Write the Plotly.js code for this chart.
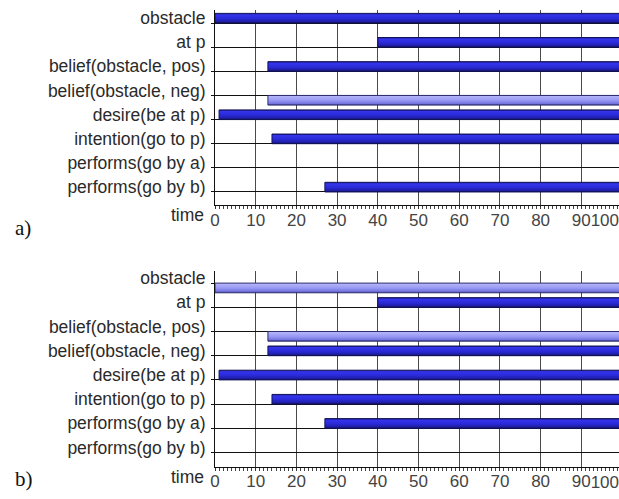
<!DOCTYPE html>
<html>
<head>
<meta charset="utf-8">
<script src="https://cdn.plot.ly/plotly-3.0.1.min.js"></script>
<style>
  html, body { margin: 0; padding: 0; background: #fff; overflow: hidden; }
  #chart { width: 640px; height: 499px; }
</style>
</head>
<body>
<div id="chart"></div>
<script>
// State names, listed top to bottom
const rows = [
  'obstacle', 'at p', 'belief(obstacle, pos)', 'belief(obstacle, neg)',
  'desire(be at p)', 'intention(go to p)', 'performs(go by a)', 'performs(go by b)'
];
const tEnd = 100;

// Trace a): time each state starts to hold (null = never), and its truth value
// (1 = true, drawn above the row line; 0 = false, drawn light below it)
const startA = [0, 40, 13, 13, 1, 14, null, 27];
const truthA = [1, 1, 1, 0, 1, 1, 1, 1];

// Trace b)
const startB = [0, 40, 13, 13, 1, 14, 27, null];
const truthB = [0, 1, 0, 1, 1, 1, 1, 1];

// time axis labels; the last one is set against the right edge
const xTicks = [0, 10, 20, 30, 40, 50, 60, 70, 80, 90];
const xLastTick = [100];

const labelFont = { family: 'Liberation Sans, Arial, sans-serif', size: 17.5, color: '#2a2a2a' };
const tickFont = { family: 'Liberation Sans, Arial, sans-serif', size: 17, color: '#444' };
const barH = 0.4;

const darkScale = [[0, '#16166a'], [0.15, '#3434ee'], [0.55, '#2a2ad6'], [0.85, '#1e1ea6'], [1, '#14145e']];
const lightScale = [[0, '#b8b8fb'], [0.5, '#9a9af4'], [0.85, '#7474e2'], [1, '#3a3a8a']];

function barTraces(starts, truth, xa, ya) {
  const out = [];
  starts.forEach((s, i) => {
    if (s === null) return;
    const up = truth[i] === 1;
    const y0 = i, y1 = up ? i - barH : i + barH;
    // outline runs along the bottom, the rising edge and the top; the fill closes the shape
    out.push({
      type: 'scatter', mode: 'lines', xaxis: xa, yaxis: ya,
      x: [tEnd, s, s, tEnd],
      y: [y0, y0, y1, y1],
      fill: 'toself',
      fillgradient: {
        type: 'vertical',
        colorscale: up ? darkScale : lightScale,
        start: up ? y1 : y0,
        stop: up ? y0 : y1
      },
      line: { color: up ? '#12125a' : '#2e2e70', width: 1 },
      hoverinfo: 'skip', showlegend: false
    });
  });
  return out;
}

// empty traces so the end-label axes are laid out
function edgeTrace(xa, ya) {
  return { type: 'scatter', mode: 'markers', x: [], y: [], xaxis: xa, yaxis: ya,
           hoverinfo: 'skip', showlegend: false };
}

const data = [
  ...barTraces(startA, truthA, 'x', 'y'),
  ...barTraces(startB, truthB, 'x2', 'y2'),
  edgeTrace('x3', 'y'),
  edgeTrace('x4', 'y2')
];

function xAxis(anchor) {
  return {
    anchor: anchor, range: [0, tEnd], domain: [0, 1],
    tickvals: xTicks, ticktext: xTicks.map(String),
    ticks: 'outside', ticklen: 3, tickcolor: '#333',
    minor: { dtick: 1, ticks: 'outside', ticklen: 3, tickcolor: '#444', showgrid: false },
    ticklabelstandoff: -4,
    showgrid: true, gridcolor: '#4a4a4a', gridwidth: 1,
    showline: true, linecolor: '#111', linewidth: 1,
    zeroline: false,
    tickfont: tickFont,
    fixedrange: true
  };
}

function xEdgeAxis(overlay, anchor) {
  return {
    overlaying: overlay, anchor: anchor, side: 'bottom', range: [0, tEnd],
    tickvals: xLastTick, ticktext: xLastTick.map(String),
    ticks: '', ticklabelposition: 'outside left', ticklabelshift: -3,
    ticklabelstandoff: 3,
    showgrid: false, showline: false, zeroline: false,
    tickfont: tickFont, fixedrange: true
  };
}

function yAxis(anchor, domain, range) {
  return {
    anchor: anchor, domain: domain, range: range,
    tickvals: rows.map((_, i) => i), ticktext: rows,
    ticks: 'outside', ticklen: 3, tickcolor: '#111',
    ticklabelshift: 5, ticklabelstandoff: 2,
    showgrid: true, gridcolor: '#111', gridwidth: 1,
    showline: true, linecolor: '#111', linewidth: 1,
    zeroline: false,
    tickfont: labelFont,
    fixedrange: true
  };
}

const layout = {
  width: 640, height: 499,
  margin: { l: 215, r: 18, t: 0, b: 0 },
  paper_bgcolor: '#fff', plot_bgcolor: '#fff',
  xaxis: xAxis('y'),
  yaxis: yAxis('x', [0.5882, 0.979], [7.56, -0.52]),
  xaxis2: xAxis('y2'),
  yaxis2: yAxis('x2', [0.0641, 0.4569], [7.6, -0.5]),
  xaxis3: xEdgeAxis('x', 'y'),
  xaxis4: xEdgeAxis('x2', 'y2'),
  annotations: [
    { text: 'time', xref: 'x domain', yref: 'y domain', x: 0, y: 0, xanchor: 'right', yanchor: 'top',
      xshift: -9, yshift: 2, showarrow: false, font: labelFont },
    { text: 'time', xref: 'x2 domain', yref: 'y2 domain', x: 0, y: 0, xanchor: 'right', yanchor: 'top',
      xshift: -9, yshift: 2, showarrow: false, font: labelFont },
    { text: 'a)', xref: 'x domain', yref: 'y domain', x: 0, y: 0, xanchor: 'left', yanchor: 'top',
      xshift: -202, yshift: -9, showarrow: false,
      font: { family: 'Liberation Serif, DejaVu Serif, serif', size: 21, color: '#111' } },
    { text: 'b)', xref: 'x2 domain', yref: 'y2 domain', x: 0, y: 0, xanchor: 'left', yanchor: 'top',
      xshift: -202, yshift: 2, showarrow: false,
      font: { family: 'Liberation Serif, DejaVu Serif, serif', size: 21, color: '#111' } }
  ],
  showlegend: false
};

Plotly.newPlot('chart', data, layout, { displayModeBar: false, staticPlot: true });
</script>
</body>
</html>
